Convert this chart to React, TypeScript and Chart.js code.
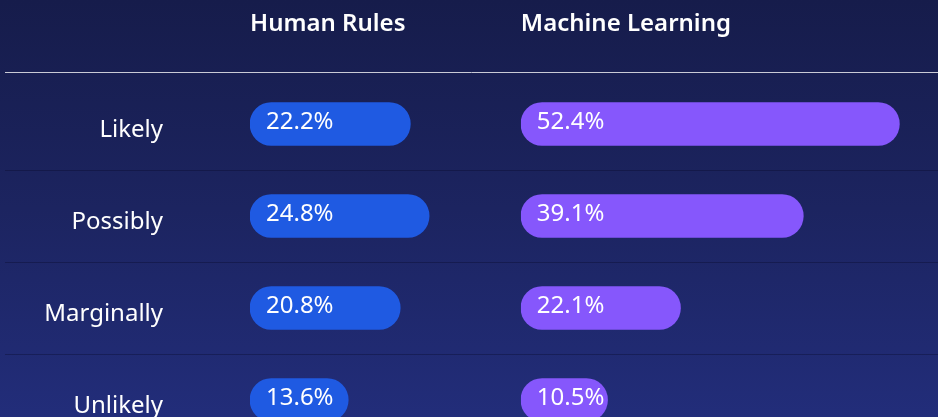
import React, { useEffect, useRef } from "react";
import { Chart, registerables } from "chart.js";

Chart.register(...registerables);

const categories = ["Likely", "Possibly", "Marginally", "Unlikely"];
const seriesNames = ["Human Rules", "Machine Learning"];
const humanRules = [22.2, 24.8, 20.8, 13.6];
const machineLearning = [52.4, 39.1, 22.1, 10.5];
// axis ranges (percent) for the two side-by-side columns
const humanAxisMax = 37.5;
const mlAxisMax = 57.75;
// smallest drawn bar length (percent) so the label fits in the pill
const minShownValue = 12;

const FONT = "'Noto Sans', 'Open Sans', sans-serif";

const minWidthPlugin = {
  id: "minWidth",
  afterDatasetsUpdate(chart: any) {
    chart.data.datasets.forEach((_ds: any, i: number) => {
      const meta = chart.getDatasetMeta(i);
      const scale = chart.scales[meta.xAxisID];
      const minX = scale.getPixelForValue(minShownValue);
      meta.data.forEach((el: any) => {
        if (el.x < minX) el.x = minX;
      });
    });
  },
};

const linesPlugin = {
  id: "rowLines",
  beforeDatasetsDraw(chart: any) {
    const { ctx, chartArea, width } = chart;
    const y = chart.scales.y;
    ctx.save();
    // header rule
    ctx.strokeStyle = "#c9cad6";
    ctx.lineWidth = 1;
    ctx.beginPath();
    ctx.moveTo(5, chartArea.top - 5.5);
    ctx.lineTo(width, chartArea.top - 5.5);
    ctx.stroke();
    // row separators
    ctx.strokeStyle = "rgba(8,10,40,0.35)";
    for (let i = 0; i < categories.length - 1; i++) {
      const yy = Math.round((y.getPixelForValue(i) + y.getPixelForValue(i + 1)) / 2) + 0.5;
      ctx.beginPath();
      ctx.moveTo(5, yy);
      ctx.lineTo(width, yy);
      ctx.stroke();
    }
    ctx.restore();
  },
};

const valueLabelPlugin = {
  id: "valueLabels",
  afterDatasetsDraw(chart: any) {
    const ctx = chart.ctx;
    ctx.save();
    ctx.font = `24px ${FONT}`;
    ctx.fillStyle = "#ffffff";
    ctx.textAlign = "left";
    ctx.textBaseline = "middle";
    chart.data.datasets.forEach((ds: any, i: number) => {
      const meta = chart.getDatasetMeta(i);
      meta.data.forEach((el: any, j: number) => {
        ctx.fillText(`${ds.data[j].toFixed(1)}%`, el.base + 16, el.y - 2);
      });
    });
    ctx.restore();
  },
};

export default function App() {
  const ref = useRef<HTMLCanvasElement | null>(null);

  useEffect(() => {
    if (!ref.current) return;
    const titleFont = { family: FONT, size: 24, weight: "600" };
    const chart = new Chart(ref.current, {
      type: "bar",
      data: {
        labels: categories,
        datasets: [
          {
            label: seriesNames[0],
            data: humanRules,
            xAxisID: "xHuman",
            backgroundColor: "#1f5ae2",
            barThickness: 43,
            borderRadius: 22,
            borderSkipped: false,
            grouped: false,
          },
          {
            label: seriesNames[1],
            data: machineLearning,
            xAxisID: "xML",
            backgroundColor: "#8657fc",
            barThickness: 43,
            borderRadius: 22,
            borderSkipped: false,
            grouped: false,
          },
        ],
      },
      options: {
        indexAxis: "y",
        responsive: false,
        animation: false,
        layout: { padding: 0 },
        plugins: { legend: { display: false }, tooltip: { enabled: false } },
        scales: {
          y: {
            type: "category",
            position: "left",
            offset: true,
            grid: { display: false, drawTicks: false },
            border: { display: false },
            ticks: {
              color: "#ffffff",
              font: { family: FONT, size: 24 },
              padding: 87,
              labelOffset: 6,
            },
            afterFit(s: any) {
              s.width = 250;
              s.paddingTop = 0;
              s.paddingBottom = 0;
            },
          },
          xHuman: {
            type: "linear",
            axis: "x",
            position: "top",
            stack: "columns",
            stackWeight: humanAxisMax,
            weight: 1,
            min: 0,
            max: humanAxisMax,
            grid: { display: false, drawTicks: false },
            border: { display: false },
            ticks: { display: false },
            title: {
              display: true,
              text: seriesNames[0],
              align: "start",
              color: "#ffffff",
              font: titleFont,
              padding: { top: 10, bottom: 0 },
            },
            afterFit(s: any) {
              s.height = 78;
            },
          },
          xML: {
            type: "linear",
            axis: "x",
            position: "top",
            stack: "columns",
            stackWeight: mlAxisMax,
            weight: 0,
            min: 0,
            max: mlAxisMax,
            grid: { display: false, drawTicks: false },
            border: { display: false },
            ticks: { display: false },
            title: {
              display: true,
              text: seriesNames[1],
              align: "start",
              color: "#ffffff",
              font: titleFont,
              padding: { top: 10, bottom: 0 },
            },
            afterFit(s: any) {
              s.height = 78;
            },
          },
        },
      } as any,
      plugins: [minWidthPlugin, linesPlugin, valueLabelPlugin],
    });
    return () => chart.destroy();
  }, []);

  return (
    <div
      style={{
        position: "fixed",
        left: 0,
        top: 0,
        width: 938,
        height: 417,
        overflow: "hidden",
        background: "linear-gradient(180deg, #161c4b 0%, #1c2460 50%, #222d7a 100%)",
      }}
    >
      <canvas ref={ref} width={938} height={446} style={{ display: "block" }} />
    </div>
  );
}
